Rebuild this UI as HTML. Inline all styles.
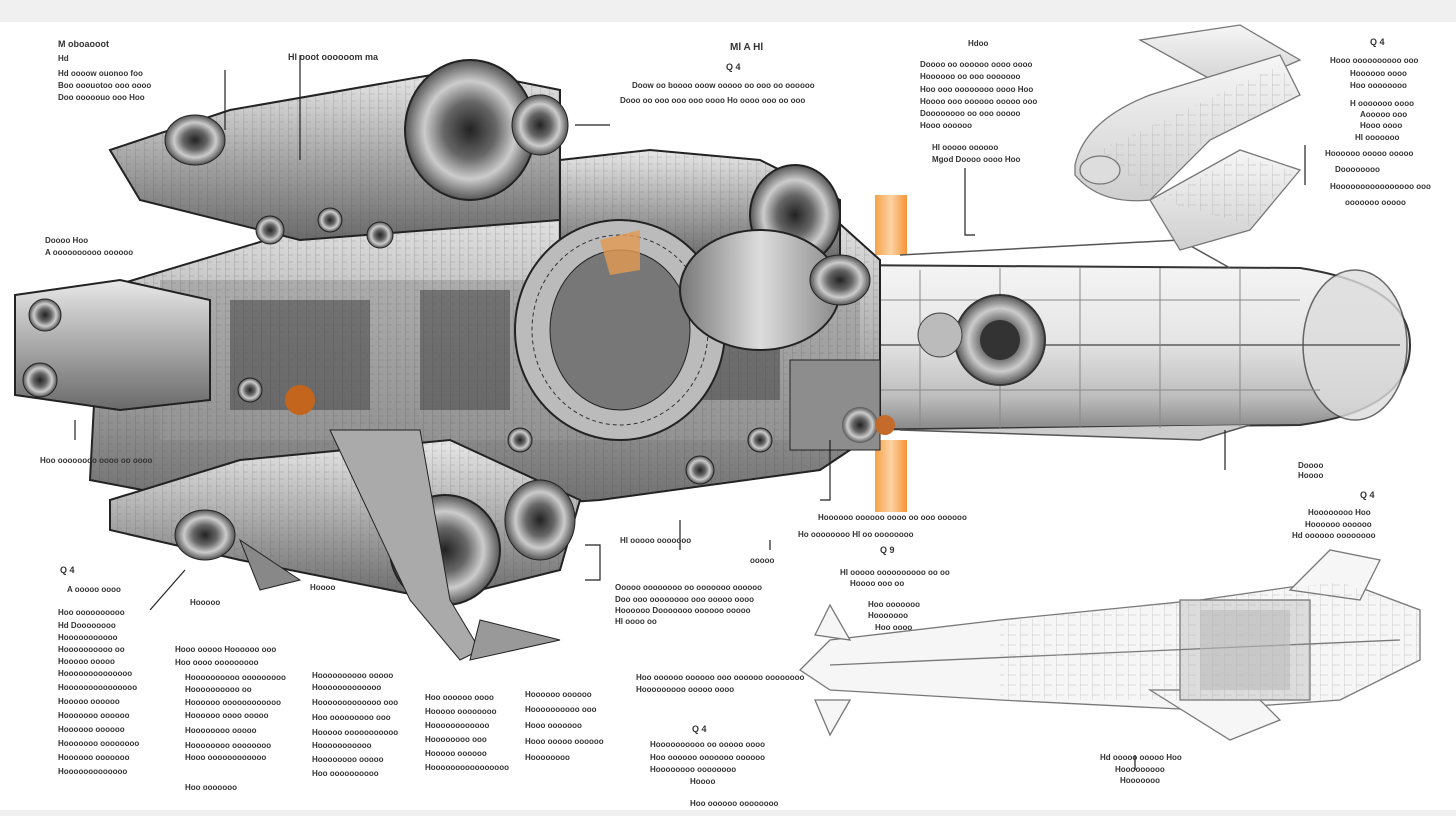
<!DOCTYPE html>
<html><head><meta charset="utf-8"><style>
html,body{margin:0;padding:0;background:#fff;}
svg{display:block}
text{font-family:"Liberation Sans",sans-serif;font-weight:bold;fill:#333}
</style></head><body>
<svg width="1456" height="816" viewBox="0 0 1456 816" xmlns="http://www.w3.org/2000/svg">
<defs>
<linearGradient id="cyl" x1="0" y1="0" x2="0" y2="1">
<stop offset="0" stop-color="#f4f4f4"/><stop offset=".45" stop-color="#e6e6e6"/><stop offset=".8" stop-color="#bdbdbd"/><stop offset="1" stop-color="#888"/></linearGradient>
<linearGradient id="met" x1="0" y1="0" x2="0" y2="1">
<stop offset="0" stop-color="#e8e8e8"/><stop offset=".5" stop-color="#a9a9a9"/><stop offset="1" stop-color="#6a6a6a"/></linearGradient>
<linearGradient id="met2" x1="0" y1="0" x2="1" y2="0">
<stop offset="0" stop-color="#777"/><stop offset=".5" stop-color="#ddd"/><stop offset="1" stop-color="#888"/></linearGradient>
<linearGradient id="sk" x1="0" y1="0" x2="0" y2="1">
<stop offset="0" stop-color="#f6f6f6"/><stop offset="1" stop-color="#cfcfcf"/></linearGradient>
<radialGradient id="eng"><stop offset="0" stop-color="#222"/><stop offset=".4" stop-color="#666"/><stop offset=".7" stop-color="#ccc"/><stop offset="1" stop-color="#555"/></radialGradient>
<linearGradient id="org" x1="0" y1="0" x2="1" y2="0"><stop offset="0" stop-color="#f7a24a"/><stop offset=".5" stop-color="#fbd3a4"/><stop offset="1" stop-color="#f59335"/></linearGradient>
<pattern id="hatch" width="9" height="7" patternUnits="userSpaceOnUse">
<rect width="9" height="7" fill="none"/><line x1="0" y1="0" x2="0" y2="7" stroke="#333" stroke-width="0.8"/><line x1="0" y1="3" x2="5" y2="3" stroke="#555" stroke-width="0.6"/></pattern>
<pattern id="hatch2" width="12" height="10" patternUnits="userSpaceOnUse">
<line x1="0" y1="0" x2="0" y2="10" stroke="#999" stroke-width="0.6"/><line x1="0" y1="5" x2="8" y2="5" stroke="#aaa" stroke-width="0.5"/></pattern>
</defs>
<rect width="1456" height="816" fill="#fff"/>
<rect width="1456" height="22" fill="#f0f0f0"/>
<rect y="810" width="1456" height="6" fill="#f0f0f0"/>

<rect x="875" y="195" width="32" height="60" fill="url(#org)"/>
<rect x="875" y="440" width="32" height="72" fill="url(#org)"/>

<!-- nose cylinder -->
<path d="M830 265 L1300 268 Q1410 285 1410 345 Q1410 410 1300 425 L830 430 Z" fill="url(#cyl)" stroke="#333" stroke-width="2"/>
<ellipse cx="1355" cy="345" rx="52" ry="75" fill="#ddd" stroke="#444" stroke-width="1.5" opacity=".8"/>
<line x1="830" y1="345" x2="1400" y2="345" stroke="#444" stroke-width="1.2"/>
<path d="M900 255 L1180 240 L1230 268" fill="none" stroke="#555" stroke-width="1.5"/>
<path d="M900 430 L1200 440 L1250 425" fill="#ccc" stroke="#555" stroke-width="1.5"/>
<g stroke="#888" stroke-width="1">
<line x1="920" y1="270" x2="920" y2="428"/><line x1="1000" y1="268" x2="1000" y2="428"/><line x1="1080" y1="268" x2="1080" y2="428"/><line x1="1160" y1="268" x2="1160" y2="428"/><line x1="1240" y1="268" x2="1240" y2="428"/>
<line x1="840" y1="300" x2="1300" y2="300"/><line x1="840" y1="390" x2="1320" y2="390"/>
</g>
<circle cx="1000" cy="340" r="45" fill="url(#eng)" stroke="#333" stroke-width="2"/>
<circle cx="1000" cy="340" r="20" fill="#333"/>
<circle cx="940" cy="335" rx="20" r="22" fill="#bbb" stroke="#444"/>

<!-- main left body -->
<path d="M100 290 L300 230 L560 200 L830 215 L880 260 L880 430 L820 470 L600 500 L300 520 L90 480 Z" fill="url(#met)" stroke="#222" stroke-width="2"/>
<rect x="160" y="280" width="700" height="160" fill="#9a9a9a" opacity=".6"/>
<g fill="#444" opacity=".55">
<rect x="230" y="300" width="140" height="110"/><rect x="420" y="290" width="90" height="120"/><rect x="560" y="270" width="120" height="150"/><rect x="700" y="300" width="80" height="100"/>
</g>
<path d="M100 290 L300 230 L560 200 L830 215 L880 260 L880 430 L820 470 L600 500 L300 520 L90 480 Z" fill="url(#hatch)" opacity=".35"/>
<!-- upper pods -->
<path d="M110 150 L230 110 L460 70 L560 90 L560 220 L300 240 L140 200 Z" fill="url(#met)" stroke="#222" stroke-width="2"/>
<path d="M110 150 L230 110 L460 70 L560 90 L560 220 L300 240 L140 200 Z" fill="url(#hatch)" opacity=".3"/>
<ellipse cx="470" cy="130" rx="65" ry="70" fill="url(#eng)" stroke="#222" stroke-width="2"/>
<ellipse cx="195" cy="140" rx="30" ry="25" fill="url(#eng)" stroke="#222"/>
<ellipse cx="540" cy="125" rx="28" ry="30" fill="url(#eng)" stroke="#222"/>
<path d="M560 160 L650 150 L760 160 L840 200 L840 260 L560 250 Z" fill="url(#met)" stroke="#222" stroke-width="2"/>
<path d="M560 160 L650 150 L760 160 L840 200 L840 260 L560 250 Z" fill="url(#hatch)" opacity=".3"/>
<ellipse cx="795" cy="215" rx="45" ry="50" fill="url(#eng)" stroke="#222" stroke-width="2"/>
<ellipse cx="620" cy="330" rx="105" ry="110" fill="#bbb" stroke="#222" stroke-width="2"/>
<ellipse cx="620" cy="330" rx="70" ry="80" fill="#777" stroke="#222"/>
<ellipse cx="620" cy="330" rx="88" ry="95" fill="none" stroke="#333" stroke-width="1" stroke-dasharray="4 3"/>
<ellipse cx="760" cy="290" rx="80" ry="60" fill="url(#met2)" stroke="#222" stroke-width="2"/>
<ellipse cx="840" cy="280" rx="30" ry="25" fill="url(#eng)" stroke="#222"/>
<rect x="790" y="360" width="90" height="90" fill="#8d8d8d" stroke="#222"/>
<circle cx="860" cy="425" r="18" fill="url(#eng)"/>
<circle cx="885" cy="425" r="10" fill="#c46a2a"/>
<g fill="url(#eng)" stroke="#222">
<circle cx="270" cy="230" r="14"/><circle cx="330" cy="220" r="12"/><circle cx="380" cy="235" r="13"/><circle cx="250" cy="390" r="12"/><circle cx="360" cy="450" r="14"/><circle cx="520" cy="440" r="12"/><circle cx="700" cy="470" r="14"/><circle cx="760" cy="440" r="12"/>
</g>
<!-- left nozzles -->
<path d="M15 295 L120 280 L210 300 L210 400 L120 410 L15 395 Z" fill="url(#met)" stroke="#222" stroke-width="2"/>
<circle cx="45" cy="315" r="16" fill="url(#eng)" stroke="#222"/>
<circle cx="40" cy="380" r="17" fill="url(#eng)" stroke="#222"/>
<circle cx="300" cy="400" r="15" fill="#c4651e"/>
<!-- lower pods -->
<path d="M110 500 L240 460 L450 440 L580 500 L560 570 L440 600 L240 560 L110 530 Z" fill="url(#met)" stroke="#222" stroke-width="2"/>
<path d="M110 500 L240 460 L450 440 L580 500 L560 570 L440 600 L240 560 L110 530 Z" fill="url(#hatch)" opacity=".3"/>
<ellipse cx="445" cy="550" rx="55" ry="55" fill="url(#eng)" stroke="#222" stroke-width="2"/>
<ellipse cx="205" cy="535" rx="30" ry="25" fill="url(#eng)" stroke="#222"/>
<ellipse cx="540" cy="520" rx="35" ry="40" fill="url(#eng)" stroke="#222"/>
<path d="M330 430 L420 430 L450 600 L480 650 L460 660 L410 600 Z" fill="#aaa" stroke="#222"/>
<path d="M480 620 L560 640 L470 660 Z" fill="#999" stroke="#222"/>
<path d="M240 540 L300 580 L260 590 Z" fill="#888" stroke="#222"/>
<path d="M600 240 L640 230 L640 270 L610 275 Z" fill="#e49a50" opacity=".8"/>

<!-- leader lines -->
<g stroke="#222" stroke-width="1.2" fill="none">
<path d="M300 55 L300 160"/><path d="M225 70 L225 130"/><path d="M575 125 L610 125"/><path d="M965 168 L965 235 L975 235"/><path d="M820 500 L830 500 L830 440"/><path d="M585 545 L600 545 L600 580 L585 580"/>
<path d="M1305 145 L1305 185"/><path d="M1135 755 L1135 770"/><path d="M75 420 L75 440"/><path d="M1225 430 L1225 470"/>
<path d="M185 570 L150 610"/><path d="M680 520 L680 550"/><path d="M770 540 L770 550"/>
</g>

<!-- top right sketch -->
<g fill="url(#sk)" stroke="#777" stroke-width="1.3">
<path d="M1140 40 L1240 25 L1300 60 L1230 90 Z"/>
<path d="M1075 165 Q1085 120 1150 95 L1280 55 L1300 95 L1210 140 L1150 200 Q1100 205 1075 175 Z"/>
<path d="M1150 200 L1240 150 L1300 170 L1250 230 L1180 250 Z"/>
<ellipse cx="1100" cy="170" rx="20" ry="14" fill="#ddd"/>
</g>
<g fill="url(#hatch2)" opacity=".8"><path d="M1100 150 L1280 65 L1295 95 L1200 145 L1150 195 Z"/><path d="M1160 200 L1240 155 L1295 172 L1250 225 Z"/></g>

<!-- bottom right ship -->
<g fill="#f6f6f6" stroke="#777" stroke-width="1.3">
<path d="M800 670 L830 640 L1000 620 L1200 600 L1340 580 L1420 610 L1420 660 L1340 700 L1200 710 L1000 700 L830 690 Z"/>
<path d="M1290 590 L1330 550 L1380 560 L1360 600 Z"/>
<path d="M1150 690 L1230 740 L1280 720 L1250 690 Z"/>
<path d="M815 700 L830 735 L850 700 Z"/>
<path d="M815 635 L830 605 L850 640 Z"/>
<rect x="1180" y="600" width="130" height="100" fill="#dcdcdc"/>
<line x1="830" y1="665" x2="1400" y2="640"/>
</g>
<g opacity=".7"><path d="M1000 622 L1340 582 L1420 612 L1420 660 L1340 700 L1000 700 Z" fill="url(#hatch2)"/></g>
<g fill="#bbb" opacity=".6"><rect x="1200" y="610" width="90" height="80"/></g>

<!-- text labels -->
<g font-size="8">
<text x="58" y="47" font-size="9">M oboaooot</text><text x="58" y="61">Hd</text>
<text x="58" y="76">Hd oooow ouonoo foo</text><text x="58" y="88">Boo ooouotoo ooo oooo</text><text x="58" y="100">Doo ooooouo ooo Hoo</text>
<text x="288" y="60" font-size="9">Hl ooot oooooom ma</text>
<text x="730" y="50" font-size="10">Ml A Hl</text><text x="726" y="70" font-size="9">Q 4</text>
<text x="632" y="88">Doow oo boooo ooow ooooo oo ooo oo oooooo</text><text x="620" y="103">Dooo oo ooo ooo ooo oooo Ho oooo ooo oo ooo</text>
<text x="968" y="46">Hdoo</text>
<text x="920" y="67">Doooo oo oooooo oooo oooo</text><text x="920" y="79">Hoooooo oo ooo ooooooo</text><text x="920" y="92">Hoo ooo oooooooo oooo Hoo</text><text x="920" y="104">Hoooo ooo oooooo ooooo ooo</text><text x="920" y="116">Doooooooo oo ooo ooooo</text><text x="920" y="128">Hooo oooooo</text>
<text x="932" y="150">Hl ooooo oooooo</text><text x="932" y="162">Mgod Doooo oooo Hoo</text>
<text x="1370" y="45" font-size="9">Q 4</text>
<text x="1330" y="63">Hooo oooooooooo ooo</text><text x="1350" y="76">Hoooooo oooo</text><text x="1350" y="88">Hoo oooooooo</text>
<text x="1350" y="106">H ooooooo oooo</text><text x="1360" y="117">Aooooo ooo</text><text x="1360" y="128">Hooo oooo</text><text x="1355" y="140">Hl ooooooo</text><text x="1325" y="156">Hoooooo ooooo ooooo</text><text x="1335" y="172">Doooooooo</text>
<text x="1330" y="189">Hoooooooooooooooo ooo</text><text x="1345" y="205">ooooooo ooooo</text>
<text x="45" y="243">Doooo Hoo</text><text x="45" y="255">A oooooooooo oooooo</text>
<text x="40" y="463">Hoo oooooooo oooo oo oooo</text>
<text x="1298" y="468">Doooo</text><text x="1298" y="478">Hoooo</text>
<text x="1360" y="498" font-size="9">Q 4</text>
<text x="1308" y="515">Hoooooooo Hoo</text><text x="1305" y="527">Hoooooo oooooo</text><text x="1292" y="538">Hd oooooo oooooooo</text>
<text x="818" y="520">Hoooooo oooooo oooo oo ooo oooooo</text><text x="798" y="537">Ho oooooooo Hl oo oooooooo</text>
<text x="620" y="543">Hl ooooo ooooooo</text><text x="750" y="563">ooooo</text>
<text x="880" y="553" font-size="9">Q 9</text>
<text x="840" y="575">Hl ooooo oooooooooo oo oo</text><text x="850" y="586">Hoooo ooo oo</text>
<text x="868" y="607">Hoo ooooooo</text><text x="868" y="618">Hooooooo</text>
<text x="875" y="630">Hoo oooo</text>
<text x="615" y="590">Ooooo oooooooo oo ooooooo oooooo</text><text x="615" y="602">Doo ooo oooooooo ooo ooooo oooo</text><text x="615" y="613">Hoooooo Dooooooo oooooo ooooo</text><text x="615" y="624">Hl oooo oo</text>
<text x="60" y="573" font-size="9">Q 4</text><text x="67" y="592">A ooooo oooo</text>
<text x="58" y="615">Hoo oooooooooo</text><text x="58" y="628">Hd Doooooooo</text><text x="58" y="640">Hooooooooooo</text><text x="58" y="652">Hoooooooooo oo</text><text x="58" y="664">Hooooo ooooo</text><text x="58" y="676">Hoooooooooooooo</text><text x="58" y="690">Hooooooooooooooo</text><text x="58" y="704">Hooooo oooooo</text><text x="58" y="718">Hooooooo oooooo</text><text x="58" y="732">Hoooooo oooooo</text><text x="58" y="746">Hooooooo oooooooo</text><text x="58" y="760">Hoooooo ooooooo</text><text x="58" y="774">Hooooooooooooo</text>
<text x="190" y="605">Hooooo</text><text x="310" y="590">Hoooo</text>
<text x="175" y="652">Hooo ooooo Hoooooo ooo</text><text x="175" y="665">Hoo oooo ooooooooo</text>
<text x="185" y="680">Hoooooooooo ooooooooo</text><text x="185" y="692">Hoooooooooo oo</text><text x="185" y="705">Hoooooo oooooooooooo</text><text x="185" y="718">Hoooooo oooo ooooo</text><text x="185" y="733">Hoooooooo ooooo</text><text x="185" y="748">Hoooooooo oooooooo</text><text x="185" y="760">Hooo oooooooooooo</text><text x="185" y="790">Hoo ooooooo</text>
<text x="312" y="678">Hoooooooooo ooooo</text><text x="312" y="690">Hooooooooooooo</text><text x="312" y="705">Hooooooooooooo ooo</text><text x="312" y="720">Hoo ooooooooo ooo</text><text x="312" y="735">Hooooo ooooooooooo</text><text x="312" y="748">Hooooooooooo</text><text x="312" y="762">Hoooooooo ooooo</text><text x="312" y="776">Hoo oooooooooo</text>
<text x="425" y="700">Hoo oooooo oooo</text><text x="425" y="714">Hooooo oooooooo</text><text x="425" y="728">Hoooooooooooo</text><text x="425" y="742">Hoooooooo ooo</text><text x="425" y="756">Hooooo oooooo</text><text x="425" y="770">Hoooooooooooooooo</text>
<text x="525" y="697">Hoooooo oooooo</text><text x="525" y="712">Hoooooooooo ooo</text><text x="525" y="728">Hooo ooooooo</text><text x="525" y="744">Hooo ooooo oooooo</text><text x="525" y="760">Hoooooooo</text>
<text x="636" y="680">Hoo oooooo oooooo ooo oooooo oooooooo</text><text x="636" y="692">Hooooooooo ooooo oooo</text>
<text x="692" y="732" font-size="9">Q 4</text>
<text x="650" y="747">Hoooooooooo oo ooooo oooo</text><text x="650" y="760">Hoo oooooo ooooooo oooooo</text><text x="650" y="772">Hoooooooo oooooooo</text><text x="690" y="784">Hoooo</text>
<text x="690" y="806">Hoo oooooo oooooooo</text>
<text x="1100" y="760">Hd ooooo ooooo Hoo</text><text x="1115" y="772">Hooooooooo</text><text x="1120" y="783">Hooooooo</text>
</g>
</svg>
</body></html>
